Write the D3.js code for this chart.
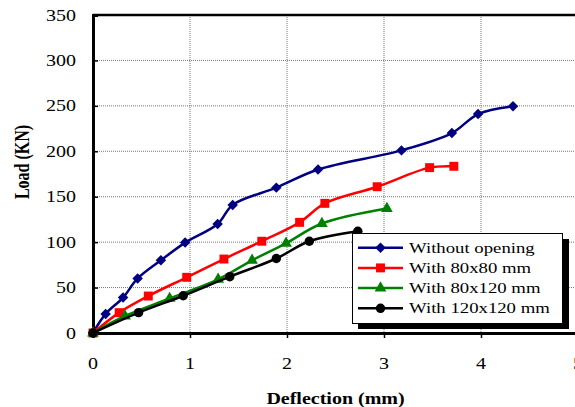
<!DOCTYPE html>
<html>
<head>
<meta charset="utf-8">
<script src="https://cdn.jsdelivr.net/npm/d3@7"></script>
<style>
  body { margin: 0; background: #fff; }
  svg text { font-family: "Liberation Serif", "Times New Roman", serif; }
</style>
</head>
<body>
<div class="chart"></div>
<script>
// series values (deflection mm, load KN)
const withoutOpening = [[0, 0], [0.13, 21], [0.31, 39], [0.46, 60], [0.70, 80], [0.95, 99.5], [1.285, 120], [1.44, 141], [1.89, 160], [2.32, 180], [3.18, 201], [3.70, 220], [3.97, 241], [4.33, 249.5]]
const with80x80 = [[0, 0], [0.27, 22.4], [0.57, 40.7], [0.966, 61.3], [1.35, 81.4], [1.74, 101], [2.13, 121.8], [2.39, 142.7], [2.93, 161], [3.47, 182], [3.72, 183.5]]
const with80x120 = [[0, 0], [0.33, 18.7], [0.79, 38], [1.29, 59], [1.64, 80], [1.99, 98.7], [2.36, 120.5], [3.03, 137]]
const with120x120 = [[0, 0], [0.47, 22.4], [0.93, 41], [1.41, 62], [1.89, 82], [2.23, 101], [2.73, 112]]

const seriesNames = ["Without opening", "With 80x80 mm", "With 80x120 mm", "With 120x120 mm"]
const xTicks = [0, 1, 2, 3, 4, 5]
const yTicks = [0, 50, 100, 150, 200, 250, 300, 350]

const width = 575
const height = 407
const sx = 1.25 // text in the picture is stretched sideways

let svg = d3.select(".chart")
  .append("svg")
  .attr("width", width)
  .attr("height", height)

let x = d3.scaleLinear().domain([0, 5]).range([93, 578])
let y = d3.scaleLinear().domain([0, 350]).range([333, 15])

// grid
svg.append("g")
  .selectAll("line")
  .data(xTicks.filter(d => d > 0))
  .enter()
  .append("line")
  .attr("x1", d => x(d)).attr("x2", d => x(d))
  .attr("y1", y(350)).attr("y2", y(0))
  .style("stroke", "#777")
  .style("stroke-dasharray", "1,1")

svg.append("g")
  .selectAll("line")
  .data(yTicks.filter(d => d > 0 && d < 350))
  .enter()
  .append("line")
  .attr("x1", x(0)).attr("x2", width)
  .attr("y1", d => y(d)).attr("y2", d => y(d))
  .style("stroke", "#777")
  .style("stroke-dasharray", "1,1")

// top border
svg.append("line")
  .attr("x1", x(0)).attr("x2", width)
  .attr("y1", y(350)).attr("y2", y(350))
  .style("stroke", "#000")
  .style("stroke-width", 2.5)

// axes
let xAxis = svg.append("g")
  .attr("transform", "translate(0," + y(0) + ")")
  .call(d3.axisBottom(x).tickValues(xTicks).tickSize(5).tickFormat(""))
xAxis.select(".domain").style("stroke-width", 3)
xAxis.selectAll(".tick line").style("stroke-width", 1.5)

let yAxis = svg.append("g")
  .attr("transform", "translate(" + x(0) + ",0)")
  .call(d3.axisRight(y).tickValues(yTicks).tickSize(5).tickFormat(""))
yAxis.select(".domain").style("stroke-width", 3)
yAxis.selectAll(".tick line").style("stroke-width", 1.5)

svg.append("g")
  .selectAll("text")
  .data(xTicks)
  .enter()
  .append("text")
  .attr("transform", d => "translate(" + x(d) + ",369) scale(" + sx + ",1)")
  .attr("text-anchor", "middle")
  .style("font-size", "16px")
  .text(d => d)

svg.append("g")
  .selectAll("text")
  .data(yTicks)
  .enter()
  .append("text")
  .attr("transform", d => "translate(76," + (y(d) + 5.5) + ") scale(" + sx + ",1)")
  .attr("text-anchor", "end")
  .style("font-size", "16px")
  .text(d => d)

svg.append("text")
  .attr("transform", "translate(" + ((x(0) + x(5)) / 2) + ",404) scale(" + sx + ",1)")
  .attr("text-anchor", "middle")
  .style("font-size", "16px")
  .style("font-weight", "bold")
  .text("Deflection (mm)")

svg.append("text")
  .attr("transform", "translate(28.5,162) scale(" + sx + ",1) rotate(-90)")
  .attr("text-anchor", "middle")
  .style("font-size", "16px")
  .style("font-weight", "bold")
  .text("Load (KN)")

// series
let series = [
  { name: seriesNames[0], values: withoutOpening, color: "#000080", symbol: d3.symbolDiamond2, size: 70 },
  { name: seriesNames[1], values: with80x80, color: "#ff0000", symbol: d3.symbolSquare, size: 80 },
  { name: seriesNames[2], values: with80x120, color: "#008000", symbol: d3.symbolTriangle, size: 60 },
  { name: seriesNames[3], values: with120x120, color: "#000000", symbol: d3.symbolCircle, size: 70 }
]

let line = d3.line()
  .x(d => x(d[0]))
  .y(d => y(d[1]))
  .curve(d3.curveCatmullRom)

series.forEach(s => {
  svg.append("path")
    .datum(s.values)
    .attr("d", line)
    .style("fill", "none")
    .style("stroke", s.color)
    .style("stroke-width", 2.5)

  svg.append("g")
    .selectAll("path")
    .data(s.values)
    .enter()
    .append("path")
    .attr("transform", d => "translate(" + x(d[0]) + "," + y(d[1]) + ")")
    .attr("d", d3.symbol().type(s.symbol).size(s.size))
    .style("fill", s.color)
})

// legend
let legend = svg.append("g")

legend.append("rect")
  .attr("x", 358).attr("y", 239)
  .attr("width", 211).attr("height", 90)
  .style("fill", "#000")

legend.append("rect")
  .attr("x", 352.5).attr("y", 233.5)
  .attr("width", 210).attr("height", 90)
  .style("fill", "#fff")
  .style("stroke", "#000")
  .style("stroke-width", 1)

let rows = legend.selectAll(".row")
  .data(series)
  .enter()
  .append("g")
  .attr("class", "row")
  .attr("transform", (d, i) => "translate(0," + (247.7 + i * 20.2) + ")")

rows.append("line")
  .attr("x1", 358).attr("x2", 403)
  .style("stroke", d => d.color)
  .style("stroke-width", 2.5)

rows.append("path")
  .attr("transform", "translate(380.5,0)")
  .attr("d", d => d3.symbol().type(d.symbol).size(d.size)())
  .style("fill", d => d.color)

rows.append("text")
  .attr("transform", "translate(409,5) scale(" + sx + ",1)")
  .style("font-size", "15px")
  .text(d => d.name)
</script>
</body>
</html>
